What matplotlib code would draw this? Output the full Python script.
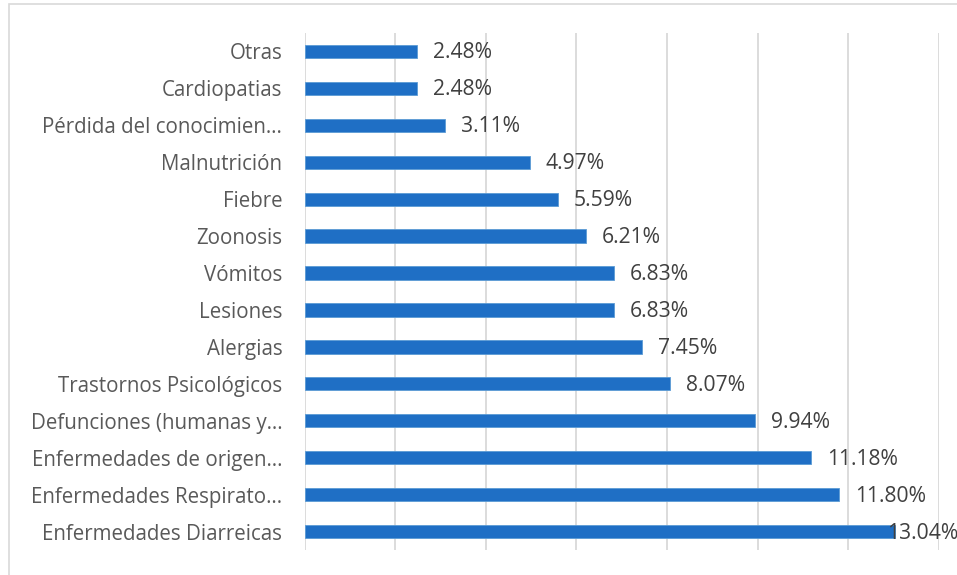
import matplotlib.pyplot as plt
from matplotlib.patches import Rectangle

categorias = ["Otras", "Cardiopatias", "Pérdida del conocimien…", "Malnutrición",
              "Fiebre", "Zoonosis", "Vómitos", "Lesiones", "Alergias",
              "Trastornos Psicológicos", "Defunciones (humanas y…",
              "Enfermedades de origen…", "Enfermedades Respirato…",
              "Enfermedades Diarreicas"]
valores = [2.48, 2.48, 3.11, 4.97, 5.59, 6.21, 6.83, 6.83, 7.45, 8.07,
           9.94, 11.18, 11.80, 13.04]

plt.rcParams['font.family'] = ['Open Sans', 'DejaVu Sans']

fig = plt.figure(figsize=(9.57, 5.75), dpi=100)
# marco gris del gráfico
fig.patches.append(Rectangle((9/957, -0.1), 1.2, 1.1 - 4/575, transform=fig.transFigure,
                             fill=False, edgecolor='#d9d9d9', linewidth=1.2))
ax = fig.add_axes([304.5/957, 1 - 550/575, (939 - 304.5)/957, (550 - 33)/575])

y = list(range(len(categorias)))
ax.barh(y, valores, height=0.36, color='#1f6fc5', edgecolor='#5b9bd5', linewidth=0.6, zorder=3)
ax.set_ylim(len(categorias) - 0.5, -0.5)
ax.set_xlim(0, 14)
ax.set_xticks(range(0, 15, 2))
ax.set_xticklabels([])
ax.tick_params(axis='x', length=0)
ax.tick_params(axis='y', length=0, pad=16)
ax.set_yticks(y)
ax.set_yticklabels(categorias, fontsize=14.8, color='#595959')
ax.grid(axis='x', color='#d9d9d9', linewidth=1.3, zorder=0)
for s in ax.spines.values():
    s.set_visible(False)

for i, v in enumerate(valores):
    ax.text(min(v + 0.35, 12.86), i + 0.04, "%.2f%%" % v, va='center', ha='left',
            fontsize=15.2, color='#404040', zorder=4)

fig.savefig("out.png", dpi=100)
